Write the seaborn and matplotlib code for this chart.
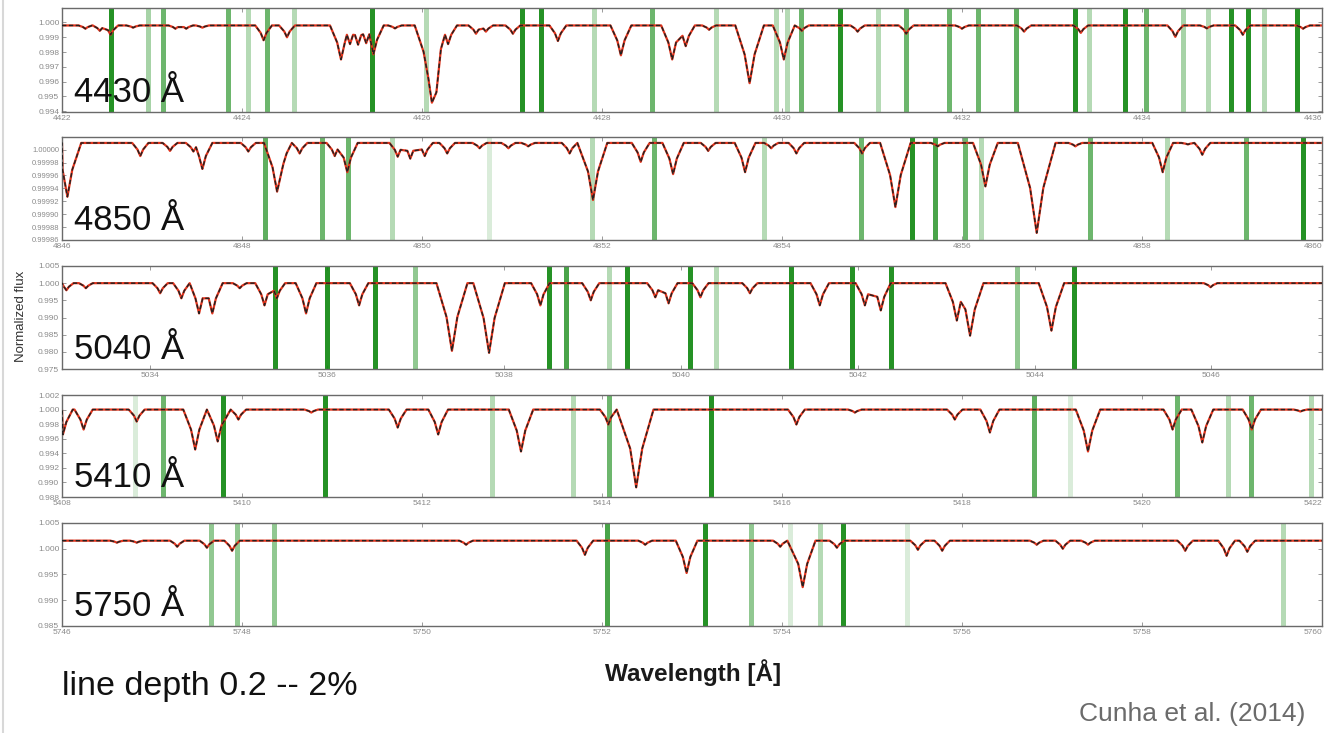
import numpy as np
import pandas as pd
import matplotlib
matplotlib.use("Agg")
import matplotlib.pyplot as plt
import seaborn as sns
from matplotlib.ticker import FormatStrFormatter, MultipleLocator
from matplotlib.lines import Line2D

sns.set_style("ticks")
plt.rcParams["font.family"] = ["Liberation Sans", "DejaVu Sans"]

# ---------------- data ----------------
panel_labels = ["4430 Å", "4850 Å", "5040 Å", "5410 Å", "5750 Å"]
x_ranges = [(4422, 4436), (4846, 4860), (5033, 5047.25), (5408, 5422), (5746, 5760)]
y_ranges = [(0.99395, 1.00098), (0.99986, 1.0000195), (0.975, 1.005), (0.988, 1.002), (0.985, 1.005)]
y_tick_steps = [0.001, 0.00002, 0.005, 0.002, 0.005]
y_tick_formats = ["%.3f", "%.5f", "%.3f", "%.3f", "%.3f"]
continuum = [0.9998, 1.0000103, 1.0, 1.0, 1.00157]

# absorption-line minima (wavelength, flux)
p1_line_wl = [4422.26, 4422.42, 4422.54, 4422.79, 4423.26, 4423.38, 4423.56, 4424.24, 4424.50,
              4425.10, 4425.20, 4425.29, 4425.38, 4425.46, 4425.70, 4426.07, 4426.11, 4426.16,
              4426.21, 4426.29, 4426.60, 4426.71, 4427.01, 4427.51, 4428.21, 4428.78, 4428.93,
              4429.19, 4429.64, 4430.02, 4430.22, 4430.84, 4431.38, 4432.00, 4432.69, 4433.32,
              4434.37, 4434.72, 4435.12, 4435.79]
p1_line_flux = [0.99958, 0.99944, 0.99917, 0.99965, 0.99958, 0.99958, 0.99965, 0.99880, 0.99900,
                0.99750, 0.99854, 0.99850, 0.99860, 0.99785, 0.99960, 0.99625, 0.99458, 0.99528,
                0.99820, 0.99854, 0.99924, 0.99938, 0.99924, 0.99875, 0.99778, 0.99750, 0.99840,
                0.99951, 0.99590, 0.99750, 0.99944, 0.99938, 0.99924, 0.99958, 0.99938, 0.99930,
                0.99903, 0.99960, 0.99917, 0.99958]

p2_line_wl = [4846.06, 4846.87, 4847.20, 4847.46, 4847.56, 4848.07, 4848.39, 4848.46, 4848.64,
              4849.03, 4849.17, 4849.73, 4849.87, 4850.03, 4850.28, 4850.64, 4850.96, 4851.18,
              4851.64, 4851.90, 4852.43, 4852.79, 4853.18, 4853.59, 4853.88, 4854.16, 4854.89,
              4855.26, 4855.73, 4856.26, 4856.83, 4857.26, 4858.23, 4858.51, 4858.67]
p2_line_flux = [0.999927, 0.999990, 0.999998, 0.999997, 0.999970, 0.999997, 0.999935, 0.999978,
                0.999994, 0.999990, 0.999965, 0.999989, 0.999986, 0.999990, 0.999994, 1.000002,
                1.000002, 1.000005, 0.999994, 0.999922, 0.999981, 0.999962, 0.999998, 0.999965,
                1.000002, 0.999994, 0.999994, 0.999911, 1.000005, 0.999943, 0.999871, 1.000005,
                0.999965, 1.000008, 0.999992]

p3_line_wl = [5033.05, 5033.27, 5034.11, 5034.35, 5034.55, 5034.70, 5035.01, 5035.29, 5035.43,
              5035.76, 5036.36, 5037.41, 5037.83, 5038.41, 5038.98, 5039.71, 5039.86, 5040.22,
              5040.78, 5041.57, 5042.08, 5042.26, 5043.12, 5043.27, 5044.19, 5045.99]
p3_line_flux = [0.99794, 0.99853, 0.99706, 0.99559, 0.99118, 0.99118, 0.99853, 0.99353, 0.99559,
                0.99118, 0.99353, 0.98029, 0.97971, 0.99353, 0.99500, 0.99588, 0.99412, 0.99588,
                0.99706, 0.99353, 0.99353, 0.99206, 0.98912, 0.98471, 0.98618, 0.99882]

p4_line_wl = [5408.01, 5408.24, 5408.83, 5409.48, 5409.73, 5409.96, 5410.77, 5411.73, 5412.18,
              5413.10, 5414.07, 5414.38, 5416.16, 5416.81, 5417.92, 5418.31, 5419.40, 5420.34,
              5420.67, 5421.22, 5421.76]
p4_line_flux = [0.99658, 0.99726, 0.99836, 0.99452, 0.99562, 0.99863, 0.99959, 0.99753, 0.99658,
                0.99425, 0.99795, 0.98932, 0.99795, 0.99959, 0.99863, 0.99685, 0.99425, 0.99726,
                0.99548, 0.99726, 0.99973]

p5_line_wl = [5746.61, 5746.83, 5747.28, 5747.61, 5747.89, 5750.49, 5751.81, 5752.48, 5752.94,
              5753.98, 5754.23, 5754.61, 5755.51, 5755.78, 5756.83, 5757.12, 5757.40, 5758.48,
              5758.94, 5759.17]
p5_line_flux = [1.00118, 1.00118, 1.00039, 1.00020, 0.99961, 1.00078, 0.99882, 1.00078, 0.99529,
                1.00039, 0.99255, 1.00020, 0.99980, 0.99961, 1.00078, 1.00000, 1.00078, 0.99961,
                0.99863, 0.99941]

# selected-line markers (wavelength, strength 0.5..3)
p1_green_wl = [4422.54, 4422.96, 4423.12, 4423.84, 4424.07, 4424.28, 4424.58, 4425.44, 4426.04,
               4427.11, 4427.32, 4427.91, 4428.56, 4429.27, 4429.93, 4430.06, 4430.21, 4430.64,
               4431.07, 4431.38, 4431.86, 4432.18, 4432.60, 4433.26, 4433.41, 4433.81, 4434.04,
               4434.46, 4434.73, 4434.99, 4435.18, 4435.36, 4435.72]
p1_green_str = [3, 1.2, 2, 2, 1, 2, 1, 3, 1, 3, 3, 1, 2, 1, 1, 1, 2, 3, 1, 2, 2, 2, 2.2, 3, 1,
                3, 2, 1.2, 1, 3, 3, 1, 3]

p2_green_wl = [4848.26, 4848.89, 4849.18, 4849.67, 4850.74, 4851.89, 4852.58, 4853.80, 4854.88,
               4855.44, 4855.70, 4856.03, 4856.21, 4857.42, 4858.28, 4859.16, 4859.79]
p2_green_str = [2.2, 2, 2, 1, 0.5, 1, 2, 1, 2, 3, 2.5, 2, 1, 2, 1, 2, 3]

p3_green_wl = [5035.41, 5036.00, 5036.54, 5036.99, 5038.51, 5038.70, 5039.19, 5039.39, 5040.10,
               5040.40, 5041.24, 5041.94, 5042.37, 5043.80, 5044.45]
p3_green_str = [3, 3, 3, 1.5, 3, 2.5, 1, 3, 3, 1, 3, 3, 3, 1.5, 3]

p4_green_wl = [5408.81, 5409.12, 5409.79, 5410.92, 5412.78, 5413.68, 5414.08, 5415.21, 5418.80,
               5419.20, 5420.39, 5420.96, 5421.21, 5421.88]
p4_green_str = [0.5, 2, 3, 3, 1, 1, 2, 3, 2.2, 0.5, 2, 1, 2, 1]

p5_green_wl = [5747.66, 5747.94, 5748.36, 5752.06, 5753.14, 5753.66, 5754.09, 5754.42, 5754.68,
               5755.39, 5759.57]
p5_green_str = [1.5, 1.5, 1.5, 2.5, 3, 1.5, 0.5, 1, 3, 0.5, 1]

line_wls = [p1_line_wl, p2_line_wl, p3_line_wl, p4_line_wl, p5_line_wl]
line_fluxes = [p1_line_flux, p2_line_flux, p3_line_flux, p4_line_flux, p5_line_flux]
green_wls = [p1_green_wl, p2_green_wl, p3_green_wl, p4_green_wl, p5_green_wl]
green_strs = [p1_green_str, p2_green_str, p3_green_str, p4_green_str, p5_green_str]


def spectrum_vertices(wl, flux, cont, xr, yr):
    """Polyline vertices: each read minimum plus a half-depth and a continuum
    shoulder on each side, kept inside the line's own half-gap to its neighbours."""
    yspan = yr[1] - yr[0]
    order = np.argsort(wl)
    wl = [wl[i] for i in order]
    flux = [flux[i] for i in order]
    n = len(wl)
    pts = [(xr[0], cont), (xr[1], cont)]
    for i in range(n):
        c, f = wl[i], flux[i]
        d = cont - f
        hw = 0.07 + 0.16 * d / yspan
        gl = (c - wl[i - 1]) / 2 if i > 0 else np.inf
        gr = (wl[i + 1] - c) / 2 if i < n - 1 else np.inf
        pts.append((c, f))
        for sign, g in ((-1, gl), (1, gr)):
            if 0.35 * hw <= g:
                pts.append((c + sign * 0.35 * hw, cont - 0.5 * d))
            if hw <= g:
                pts.append((c + sign * hw, cont))
    pts.sort(key=lambda p: p[0])
    return pd.DataFrame(pts, columns=["wavelength", "flux"])


# ---------------- layout ----------------
W, H = 1324, 733
fig = plt.figure(figsize=(W / 100, H / 100), dpi=100)
fig.patch.set_facecolor("white")

boxes = [(8, 112), (137, 240), (266, 369), (395, 497), (523, 626)]
left_px, right_px = 62, 1322

green_color = "#0c860c"

for k in range(5):
    top, bot = boxes[k]
    ax = fig.add_axes([left_px / W, 1 - bot / H, (right_px - left_px) / W, (bot - top) / H])
    xr, yr = x_ranges[k], y_ranges[k]

    for g, s in zip(green_wls[k], green_strs[k]):
        ax.axvline(g, color=green_color, lw=3.6, alpha=min(0.95, 0.3 * s), zorder=1)

    df = spectrum_vertices(line_wls[k], line_fluxes[k], continuum[k], xr, yr)
    sns.lineplot(data=df, x="wavelength", y="flux", estimator=None, sort=False, ax=ax,
                 color="#e5341c", lw=1.6, zorder=2)
    sns.lineplot(data=df, x="wavelength", y="flux", estimator=None, sort=False, ax=ax,
                 color="#222222", lw=1.05, linestyle=(0, (3.0, 1.7)), zorder=3)

    ax.set_xlim(*xr)
    ax.set_ylim(*yr)
    ax.set_xlabel("")
    ax.set_ylabel("")
    xt = np.arange(np.ceil(xr[0] / 2) * 2, xr[1] + 1e-6, 2)
    ax.set_xticks(xt)
    labs = ax.set_xticklabels(["%d" % v for v in xt])
    if abs(xt[-1] - xr[1]) < 1e-6:
        labs[-1].set_horizontalalignment("right")
    ax.yaxis.set_major_locator(MultipleLocator(y_tick_steps[k]))
    ax.yaxis.set_major_formatter(FormatStrFormatter(y_tick_formats[k]))
    ax.tick_params(direction="in", length=3, width=0.6, top=True, right=True,
                   colors="#8a8a8a", labelsize=6, pad=2)
    ax.tick_params(axis="y", labelsize=5.5 if k == 1 else 6)
    for sp in ax.spines.values():
        sp.set_color("#6a6a6a")
        sp.set_linewidth(1.0)

    ax.text(0.0095, 0.1, panel_labels[k], transform=ax.transAxes, fontsize=25,
            va="baseline", ha="left", color="#111111", zorder=5)

fig.text(21 / W, 1 - 316 / H, "Normalized flux", rotation=90, ha="center", va="center",
         fontsize=9.5, color="#333333")
fig.text(693 / W, 1 - 673 / H, "Wavelength [Å]", ha="center", va="center",
         fontsize=17.5, fontweight="bold", color="#1a1a1a")
fig.text(62 / W, 1 - 686 / H, "line depth 0.2 -- 2%", ha="left", va="center",
         fontsize=24.5, color="#111111")
fig.text(1305 / W, 1 - 714 / H, "Cunha et al. (2014)", ha="right", va="center",
         fontsize=19, color="#6b6b6b")
fig.add_artist(Line2D([2.5 / W, 2.5 / W], [0, 1], color="#d8d8d8", lw=1.5))

fig.savefig("out.png", dpi=100, facecolor="white")
